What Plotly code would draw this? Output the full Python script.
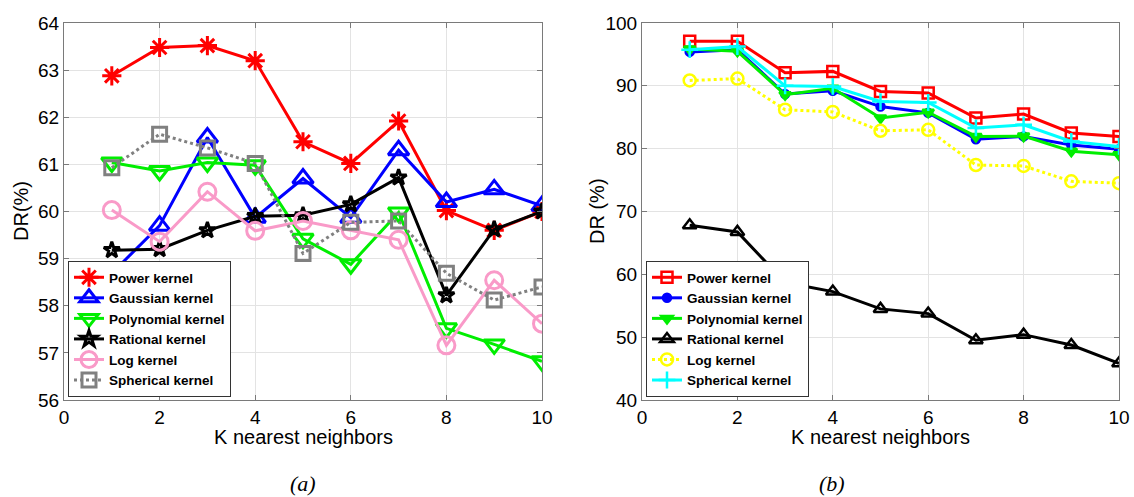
import plotly.graph_objects as go

k = [1, 2, 3, 4, 5, 6, 7, 8, 9, 10]

# Panel (a)
a_power = [62.88, 63.48, 63.52, 63.2, 61.48, 61.02, 61.92, 60.02, 59.6, 60.0]
a_gauss = [58.69, 59.7, 61.57, 59.87, 60.7, 59.87, 61.3, 60.2, 60.47, 60.12]
a_poly = [61.04, 60.86, 61.04, 60.98, 59.42, 58.88, 59.98, 57.52, 57.18, 56.82]
a_rational = [59.18, 59.2, 59.6, 59.9, 59.92, 60.15, 60.72, 58.22, 59.62, 60.0]
a_log = [60.03, 59.36, 60.42, 59.59, 59.8, 59.6, 59.4, 57.16, 58.54, 57.62]
a_spher = [60.93, 61.64, 61.35, 61.02, 59.11, 59.77, 59.8, 58.69, 58.12, 58.4]

# Panel (b)
b_power = [97.1, 97.1, 92.1, 92.3, 89.1, 88.85, 84.87, 85.5, 82.5, 81.95]
b_gauss = [95.4, 95.75, 88.7, 89.2, 86.7, 85.7, 81.5, 81.95, 80.6, 79.9]
b_poly = [95.85, 95.5, 88.6, 89.6, 84.87, 85.8, 81.95, 82.0, 79.6, 79.05]
b_rational = [67.8, 66.75, 58.7, 57.25, 54.5, 53.75, 49.5, 50.4, 48.75, 45.85]
b_log = [90.85, 91.15, 86.2, 85.85, 82.85, 83.0, 77.4, 77.25, 74.8, 74.5]
b_spher = [95.75, 96.25, 90.0, 89.9, 87.5, 87.35, 83.3, 83.8, 81.15, 80.35]

names = ["Power kernel", "Gaussian kernel", "Polynomial kernel",
         "Rational kernel", "Log kernel", "Spherical kernel"]

W, H = 1134, 497

def px_x(p):
    return p / W

def px_y(p):
    return 1 - p / H

fig = go.Figure()

a_styles = [
    (a_power, "#FF0000", "asterisk-open", 16, "solid"),
    (a_gauss, "#0000FF", "triangle-up-open", 18, "solid"),
    (a_poly, "#00EE00", "triangle-down-open", 18, "solid"),
    (a_rational, "#000000", "star-open", 12, "solid"),
    (a_log, "#F99AC8", "circle-open", 17, "solid"),
    (a_spher, "#808080", "square-open", 14, "dot"),
]
for (vals, col, sym, sz, dash), nm in zip(a_styles, names):
    fig.add_trace(go.Scatter(
        x=k, y=vals, name=nm, mode="lines+markers",
        line=dict(color=col, width=3, dash=dash),
        marker=dict(symbol=sym, size=sz, color=col, line=dict(color=col, width=3)),
        xaxis="x", yaxis="y", legend="legend"))

b_styles = [
    (b_power, "#FF0000", "square-open", 11, "solid"),
    (b_gauss, "#0000FF", "circle", 8, "solid"),
    (b_poly, "#00EE00", "triangle-down", 10, "solid"),
    (b_rational, "#000000", "triangle-up-open", 12, "solid"),
    (b_log, "#FFFF00", "circle-open", 12, "dot"),
    (b_spher, "#00FFFF", "cross-thin-open", 12, "solid"),
]
for (vals, col, sym, sz, dash), nm in zip(b_styles, names):
    fig.add_trace(go.Scatter(
        x=k, y=vals, name=nm, mode="lines+markers",
        line=dict(color=col, width=3, dash=dash),
        marker=dict(symbol=sym, size=sz, color=col, line=dict(color=col, width=2.5)),
        xaxis="x2", yaxis="y2", legend="legend2"))

axis_common = dict(
    showgrid=True, gridcolor="#E3E3E3", gridwidth=1,
    showline=True, linecolor="#7A7A7A", linewidth=1, mirror="ticks",
    ticks="inside", ticklen=5, tickcolor="#7A7A7A",
    tickfont=dict(family="Liberation Sans, Arial", size=19, color="#000000"),
    zeroline=False, automargin=False,
)

ydom = [px_y(400), px_y(23)]
leg_font = dict(family="Liberation Sans, Arial", size=13.5, color="#000000", weight="bold")
fig.update_layout(
    width=W, height=H,
    margin=dict(l=0, r=0, t=0, b=0),
    paper_bgcolor="white", plot_bgcolor="white",
    xaxis=dict(domain=[px_x(64), px_x(542)], range=[0, 10], tickvals=[0, 2, 4, 6, 8, 10],
               anchor="y", **axis_common),
    yaxis=dict(domain=ydom, range=[56, 64], tickvals=list(range(56, 65)),
               anchor="x", **axis_common),
    xaxis2=dict(domain=[px_x(642), px_x(1119)], range=[0, 10], tickvals=[0, 2, 4, 6, 8, 10],
                anchor="y2", **axis_common),
    yaxis2=dict(domain=ydom, range=[40, 100], tickvals=[40, 50, 60, 70, 80, 90, 100],
                anchor="x2", **axis_common),
    legend=dict(x=px_x(68), y=px_y(397), xanchor="left", yanchor="bottom",
                bgcolor="white", bordercolor="#333333", borderwidth=1,
                font=leg_font, itemwidth=30, tracegroupgap=0),
    legend2=dict(x=px_x(646), y=px_y(397), xanchor="left", yanchor="bottom",
                 bgcolor="white", bordercolor="#333333", borderwidth=1,
                 font=leg_font, itemwidth=30, tracegroupgap=0),
    showlegend=True,
)

ann_font = dict(family="Liberation Sans, Arial", size=20, color="#000000")
fig.add_annotation(text="K nearest neighbors", x=px_x(303), y=px_y(437), xref="paper", yref="paper",
                   showarrow=False, font=ann_font, xanchor="center", yanchor="middle")
fig.add_annotation(text="K nearest neighbors", x=px_x(880), y=px_y(437), xref="paper", yref="paper",
                   showarrow=False, font=ann_font, xanchor="center", yanchor="middle")
fig.add_annotation(text="DR(%)", x=px_x(21), y=px_y(211), xref="paper", yref="paper",
                   showarrow=False, font=ann_font, textangle=-90, xanchor="center", yanchor="middle")
fig.add_annotation(text="DR (%)", x=px_x(597), y=px_y(211), xref="paper", yref="paper",
                   showarrow=False, font=ann_font, textangle=-90, xanchor="center", yanchor="middle")
cap_font = dict(family="Liberation Serif, Times New Roman", size=22, color="#000000")
fig.add_annotation(text="<i>(a)</i>", x=px_x(303), y=px_y(483), xref="paper", yref="paper",
                   showarrow=False, font=cap_font, xanchor="center", yanchor="middle")
fig.add_annotation(text="<i>(b)</i>", x=px_x(832), y=px_y(483), xref="paper", yref="paper",
                   showarrow=False, font=cap_font, xanchor="center", yanchor="middle")

fig.write_html("out.html")
